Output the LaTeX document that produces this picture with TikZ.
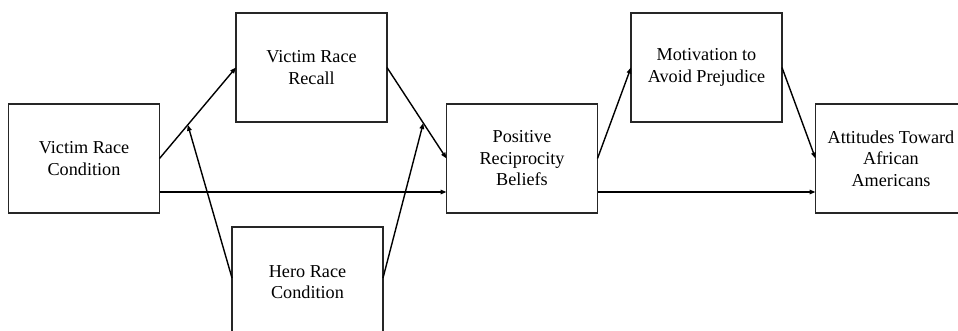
\documentclass[tikz,border=0pt]{standalone}
\usepackage{fontspec}
\setmainfont{Liberation Serif}
\usetikzlibrary{arrows.meta,calc}
\begin{document}
\begin{tikzpicture}[x=1pt,y=-1pt,
  box/.style={draw=black!85,line width=1.5pt,rectangle,inner sep=0pt,outer sep=0pt,
    minimum width=151pt,minimum height=109pt,align=center,
    font=\fontsize{18.2}{21.5}\selectfont},
  lbl/.style={align=center,inner sep=0pt,font=\fontsize{18.2}{21.5}\selectfont},
  arr/.style={line width=1.4pt,-{Triangle[length=6pt,width=4.5pt]}}]
\useasboundingbox (0,0) rectangle (958,331);
\clip (0,0) rectangle (958,331);
\node[box] (vrc) at (84,158.5) {Victim Race\\Condition};
\node[box] (vrr) at (311.5,67.5) {Victim Race\\Recall};
\node[box,minimum height=118pt] (hero) at (307.5,286) {};
\node[lbl] (herotext) at (307.5,282) {Hero Race\\Condition};
\node[box] (prb) at (522,158.5) {Positive\\Reciprocity\\Beliefs};
\node[box] (map) at (706.5,67.5) {Motivation to\\Avoid Prejudice};
\node[box] (ata) at (891,158.5) {Attitudes Toward\\African\\Americans};
\coordinate (m1) at ($(vrc.east)!0.37!(vrr.west)$);
\coordinate (m2) at ($(vrr.east)!0.61!(prb.west)$);
\draw[arr] (vrc.east) -- (vrr.west);
\draw[arr] (vrc.east |- 0,192) -- (prb.west |- 0,192);
\draw[arr] (vrr.east) -- (prb.west);
\draw[arr] (hero.west |- 0,278) -- (m1);
\draw[arr] (hero.east |- 0,278) -- (m2);
\draw[arr] (prb.east) -- (map.west);
\draw[arr] (map.east) -- (ata.west);
\draw[arr] (prb.east |- 0,192) -- (ata.west |- 0,192);
\end{tikzpicture}
\end{document}
